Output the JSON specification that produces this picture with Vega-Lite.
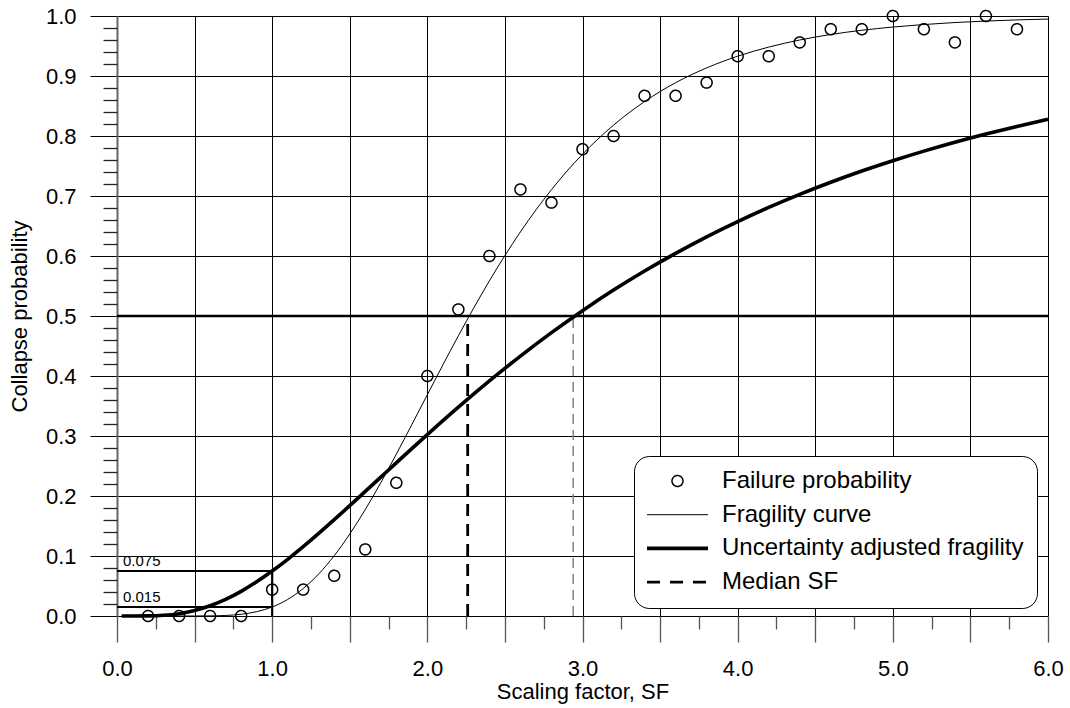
{
  "$schema": "https://vega.github.io/schema/vega-lite/v6.json",
  "width": 931,
  "height": 600,
  "autosize": {"type": "none"},
  "padding": {"left": 117, "top": 16, "right": 22, "bottom": 92},
  "background": "white",
  "config": {
    "font": "Liberation Sans",
    "view": {"stroke": null},
    "axis": {
      "labelColor": "#000",
      "titleColor": "#000",
      "titleFontWeight": "normal",
      "labelFontSize": 22,
      "titleFontSize": 22,
      "gridColor": "#000",
      "gridWidth": 1,
      "gridOpacity": 1,
      "tickColor": "#555",
      "tickWidth": 1.3,
      "labelFlush": false,
      "labelOverlap": false
    },
    "legend": {
      "orient": "none",
      "legendX": 517,
      "legendY": 440,
      "padding": 13,
      "cornerRadius": 15,
      "fillColor": "#ffffff",
      "strokeColor": "#000000",
      "labelFontSize": 24,
      "labelColor": "#000",
      "labelLimit": 400,
      "symbolSize": 100,
      "symbolOffset": 18.5,
      "labelOffset": 32.5,
      "rowPadding": 9.7,
      "symbolStrokeColor": "#000",
      "symbolFillColor": "transparent"
    }
  },
  "datasets": {
    "points": [
      {"sf": 0.2, "p": 0.0, "series": "Failure probability"},
      {"sf": 0.4, "p": 0.0, "series": "Failure probability"},
      {"sf": 0.6, "p": 0.0, "series": "Failure probability"},
      {"sf": 0.8, "p": 0.0, "series": "Failure probability"},
      {"sf": 1.0, "p": 0.044, "series": "Failure probability"},
      {"sf": 1.2, "p": 0.044, "series": "Failure probability"},
      {"sf": 1.4, "p": 0.067, "series": "Failure probability"},
      {"sf": 1.6, "p": 0.111, "series": "Failure probability"},
      {"sf": 1.8, "p": 0.222, "series": "Failure probability"},
      {"sf": 2.0, "p": 0.4, "series": "Failure probability"},
      {"sf": 2.2, "p": 0.511, "series": "Failure probability"},
      {"sf": 2.4, "p": 0.6, "series": "Failure probability"},
      {"sf": 2.6, "p": 0.711, "series": "Failure probability"},
      {"sf": 2.8, "p": 0.689, "series": "Failure probability"},
      {"sf": 3.0, "p": 0.778, "series": "Failure probability"},
      {"sf": 3.2, "p": 0.8, "series": "Failure probability"},
      {"sf": 3.4, "p": 0.867, "series": "Failure probability"},
      {"sf": 3.6, "p": 0.867, "series": "Failure probability"},
      {"sf": 3.8, "p": 0.889, "series": "Failure probability"},
      {"sf": 4.0, "p": 0.933, "series": "Failure probability"},
      {"sf": 4.2, "p": 0.933, "series": "Failure probability"},
      {"sf": 4.4, "p": 0.956, "series": "Failure probability"},
      {"sf": 4.6, "p": 0.978, "series": "Failure probability"},
      {"sf": 4.8, "p": 0.978, "series": "Failure probability"},
      {"sf": 5.0, "p": 1.0, "series": "Failure probability"},
      {"sf": 5.2, "p": 0.978, "series": "Failure probability"},
      {"sf": 5.4, "p": 0.956, "series": "Failure probability"},
      {"sf": 5.6, "p": 1.0, "series": "Failure probability"},
      {"sf": 5.8, "p": 0.978, "series": "Failure probability"}
    ],
    "frag": [
      {"sf": 0.03, "p": 0},
      {"sf": 0.2, "p": 0},
      {"sf": 0.4, "p": 0},
      {"sf": 0.5, "p": 0.00003},
      {"sf": 0.6, "p": 0.0002},
      {"sf": 0.7, "p": 0.0009},
      {"sf": 0.8, "p": 0.0029},
      {"sf": 0.9, "p": 0.0072},
      {"sf": 1.0, "p": 0.015},
      {"sf": 1.1, "p": 0.0276},
      {"sf": 1.2, "p": 0.0458},
      {"sf": 1.3, "p": 0.0701},
      {"sf": 1.4, "p": 0.1005},
      {"sf": 1.5, "p": 0.1366},
      {"sf": 1.6, "p": 0.1774},
      {"sf": 1.7, "p": 0.2221},
      {"sf": 1.8, "p": 0.2697},
      {"sf": 1.9, "p": 0.319},
      {"sf": 2.0, "p": 0.3688},
      {"sf": 2.1, "p": 0.4184},
      {"sf": 2.2, "p": 0.467},
      {"sf": 2.3, "p": 0.5138},
      {"sf": 2.4, "p": 0.5586},
      {"sf": 2.5, "p": 0.6008},
      {"sf": 2.6, "p": 0.6402},
      {"sf": 2.7, "p": 0.6769},
      {"sf": 2.8, "p": 0.7105},
      {"sf": 2.9, "p": 0.7415},
      {"sf": 3.0, "p": 0.7696},
      {"sf": 3.2, "p": 0.8181},
      {"sf": 3.4, "p": 0.8574},
      {"sf": 3.6, "p": 0.8888},
      {"sf": 3.8, "p": 0.9135},
      {"sf": 4.0, "p": 0.933},
      {"sf": 4.2, "p": 0.9482},
      {"sf": 4.4, "p": 0.96},
      {"sf": 4.6, "p": 0.9692},
      {"sf": 4.8, "p": 0.9762},
      {"sf": 5.0, "p": 0.9816},
      {"sf": 5.2, "p": 0.9858},
      {"sf": 5.4, "p": 0.9891},
      {"sf": 5.6, "p": 0.9916},
      {"sf": 5.8, "p": 0.9935},
      {"sf": 6.0, "p": 0.9949}
    ],
    "adj": [
      {"sf": 0.03, "p": 0},
      {"sf": 0.1, "p": 0.0},
      {"sf": 0.2, "p": 0.0002},
      {"sf": 0.3, "p": 0.0012},
      {"sf": 0.4, "p": 0.0039},
      {"sf": 0.5, "p": 0.0091},
      {"sf": 0.6, "p": 0.017},
      {"sf": 0.7, "p": 0.0277},
      {"sf": 0.8, "p": 0.0411},
      {"sf": 0.9, "p": 0.057},
      {"sf": 1.0, "p": 0.0749},
      {"sf": 1.1, "p": 0.0945},
      {"sf": 1.2, "p": 0.1155},
      {"sf": 1.3, "p": 0.1376},
      {"sf": 1.4, "p": 0.1605},
      {"sf": 1.5, "p": 0.1839},
      {"sf": 1.6, "p": 0.2077},
      {"sf": 1.7, "p": 0.2315},
      {"sf": 1.8, "p": 0.2553},
      {"sf": 1.9, "p": 0.279},
      {"sf": 2.0, "p": 0.3024},
      {"sf": 2.2, "p": 0.3481},
      {"sf": 2.4, "p": 0.3918},
      {"sf": 2.6, "p": 0.4332},
      {"sf": 2.8, "p": 0.4723},
      {"sf": 3.0, "p": 0.5089},
      {"sf": 3.2, "p": 0.5432},
      {"sf": 3.4, "p": 0.575},
      {"sf": 3.6, "p": 0.6045},
      {"sf": 3.8, "p": 0.632},
      {"sf": 4.0, "p": 0.6574},
      {"sf": 4.2, "p": 0.681},
      {"sf": 4.4, "p": 0.7028},
      {"sf": 4.6, "p": 0.7229},
      {"sf": 4.8, "p": 0.7416},
      {"sf": 5.0, "p": 0.7588},
      {"sf": 5.2, "p": 0.7748},
      {"sf": 5.4, "p": 0.7896},
      {"sf": 5.6, "p": 0.8033},
      {"sf": 5.8, "p": 0.816},
      {"sf": 6.0, "p": 0.8278}
    ],
    "guides": [
      {"sf": 0, "sf2": 1, "p": 0.075, "p2": 0.075},
      {"sf": 0, "sf2": 1, "p": 0.015, "p2": 0.015},
      {"sf": 1, "sf2": 1, "p": 0, "p2": 0.075}
    ],
    "median": [
      {"sf": 2.26, "sf2": 2.26, "p": 0, "p2": 0.5}
    ],
    "adjmedian": [
      {"sf": 2.94, "sf2": 2.94, "p": 0, "p2": 0.5}
    ],
    "half": [
      {"sf": 0, "sf2": 6, "p": 0.5}
    ],
    "notes": [
      {"sf": 0, "p": 0.075, "label": "0.075"},
      {"sf": 0, "p": 0.015, "label": "0.015"}
    ]
  },
  "layer": [
    {
      "layer": [
        {
          "data": {"name": "guides"},
          "mark": {"type": "rule", "color": "#000", "strokeWidth": 2.2},
          "encoding": {
            "x": {
              "field": "sf", "type": "quantitative",
              "scale": {"domain": [0, 6], "nice": false, "zero": false},
              "axis": {
                "title": "Scaling factor, SF",
                "values": [0, 0.5, 1, 1.5, 2, 2.5, 3, 3.5, 4, 4.5, 5, 5.5, 6],
                "labelExpr": "datum.value % 1 == 0 ? format(datum.value, '.1f') : ''",
                "tickSize": 26,
                "labelPadding": 16,
                "titlePadding": 2,
                "grid": true,
                "domain": false
              }
            },
            "x2": {"field": "sf2"},
            "y": {
              "field": "p", "type": "quantitative",
              "scale": {"domain": [0, 1], "nice": false, "zero": false},
              "axis": {
                "title": "Collapse probability",
                "values": [0, 0.1, 0.2, 0.3, 0.4, 0.5, 0.6, 0.7, 0.8, 0.9, 1.0],
                "format": ".1f",
                "tickSize": 27,
                "tickColor": "#000",
                "tickWidth": 1,
                "labelPadding": 14,
                "titlePadding": 14,
                "grid": true,
                "domain": true,
                "domainColor": "#666",
                "domainWidth": 2
              }
            },
            "y2": {"field": "p2"}
          }
        },
        {
          "data": {"name": "adjmedian"},
          "mark": {"type": "rule", "color": "#808080", "strokeWidth": 1.5, "strokeDash": [10, 6]},
          "encoding": {
            "x": {"field": "sf", "type": "quantitative"},
            "x2": {"field": "sf2"},
            "y": {"field": "p", "type": "quantitative"},
            "y2": {"field": "p2"}
          }
        },
        {
          "data": {"name": "frag"},
          "mark": {"type": "line", "color": "#000", "strokeWidth": 1, "interpolate": "monotone"},
          "encoding": {
            "x": {"field": "sf", "type": "quantitative"},
            "y": {"field": "p", "type": "quantitative"}
          }
        },
        {
          "data": {"name": "adj"},
          "mark": {"type": "line", "color": "#000", "strokeWidth": 3.6, "interpolate": "monotone"},
          "encoding": {
            "x": {"field": "sf", "type": "quantitative"},
            "y": {"field": "p", "type": "quantitative"}
          }
        },
        {
          "data": {"name": "median"},
          "mark": {"type": "rule", "color": "#000", "strokeWidth": 2.8, "strokeDash": [12, 8]},
          "encoding": {
            "x": {"field": "sf", "type": "quantitative"},
            "x2": {"field": "sf2"},
            "y": {"field": "p", "type": "quantitative"},
            "y2": {"field": "p2"}
          }
        },
        {
          "data": {"name": "notes"},
          "mark": {"type": "text", "align": "left", "baseline": "alphabetic", "dx": 6, "dy": -5, "fontSize": 15, "color": "#000"},
          "encoding": {
            "x": {"field": "sf", "type": "quantitative"},
            "y": {"field": "p", "type": "quantitative"},
            "text": {"field": "label"}
          }
        },
        {
          "data": {"name": "points"},
          "mark": {"type": "point", "filled": false, "color": "#000", "size": 100, "opacity": 1},
          "encoding": {
            "x": {"field": "sf", "type": "quantitative"},
            "y": {"field": "p", "type": "quantitative"},
            "shape": {
              "field": "series", "type": "nominal",
              "scale": {"domain": ["Failure probability", "Fragility curve", "Uncertainty adjusted fragility", "Median SF"], "range": ["M1.1,0A1.1,1.1,0,1,1,-1.1,0A1.1,1.1,0,1,1,1.1,0Z", "M-6.1,0H6.1", "M-6.1,0H6.1", "M-6.1,0H6.1"]},
              "legend": {"title": null, "zindex": 2}
            },
            "strokeWidth": {
              "field": "series", "type": "nominal",
              "scale": {"type": "ordinal", "domain": ["Failure probability", "Fragility curve", "Uncertainty adjusted fragility", "Median SF"], "range": [1.5, 1, 3.6, 2.8]},
              "legend": {"title": null, "zindex": 2}
            },
            "strokeDash": {
              "field": "series", "type": "nominal",
              "scale": {"domain": ["Failure probability", "Fragility curve", "Uncertainty adjusted fragility", "Median SF"], "range": [[1, 0], [1, 0], [1, 0], [13, 10]]},
              "legend": {"title": null, "zindex": 2}
            }
          }
        }
      ]
    },
    {
      "data": {"name": "half"},
      "mark": {"type": "rule", "color": "#000", "strokeWidth": 2.5},
      "encoding": {
        "x": {
          "field": "sf", "type": "quantitative",
          "scale": {"domain": [0, 6], "nice": false, "zero": false},
          "axis": {
            "orient": "bottom",
            "values": [0.25, 0.75, 1.25, 1.75, 2.25, 2.75, 3.25, 3.75, 4.25, 4.75, 5.25, 5.75],
            "tickSize": 13,
            "labels": false,
            "grid": false,
            "domain": false,
            "title": null
          }
        },
        "x2": {"field": "sf2"},
        "y": {
          "field": "p", "type": "quantitative",
          "scale": {"domain": [0, 1], "nice": false, "zero": false},
          "axis": {
            "orient": "left",
            "values": [0.02, 0.04, 0.06, 0.08, 0.12, 0.14, 0.16, 0.18, 0.22, 0.24, 0.26, 0.28, 0.32, 0.34, 0.36, 0.38, 0.42, 0.44, 0.46, 0.48, 0.52, 0.54, 0.56, 0.58, 0.62, 0.64, 0.66, 0.68, 0.72, 0.74, 0.76, 0.78, 0.82, 0.84, 0.86, 0.88, 0.92, 0.94, 0.96, 0.98],
            "tickSize": 14,
            "tickColor": "#222",
            "labels": false,
            "grid": false,
            "domain": false,
            "title": null
          }
        }
      }
    }
  ],
  "resolve": {"scale": {"x": "independent", "y": "independent"}}
}
